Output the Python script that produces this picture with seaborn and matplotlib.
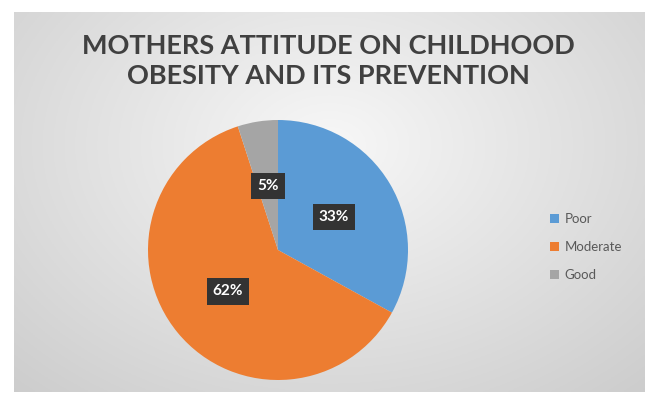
import numpy as np
import matplotlib
matplotlib.use("Agg")
import matplotlib.pyplot as plt
import seaborn as sns

sns.set_theme(style="white")
plt.rcParams['font.family'] = ['Lato', 'DejaVu Sans']

categories = ["Poor", "Moderate", "Good"]
values = [33, 62, 5]
colors = ["#5B9BD5", "#ED7D31", "#A5A5A5"]
title = "MOTHERS ATTITUDE ON CHILDHOOD\nOBESITY AND ITS PREVENTION"

W, H = 651, 394
fig = plt.figure(figsize=(W / 100, H / 100), dpi=100)
fig.patch.set_facecolor("white")

# background gradient (chart area)
x0, y0, x1, y1 = 14, 12, 645, 392
bg = fig.add_axes([x0 / W, 1 - y1 / H, (x1 - x0) / W, (y1 - y0) / H])
yy, xx = np.mgrid[0:1:200j, 0:1:300j]
r = np.sqrt(((xx - 0.5) / 0.75) ** 2 + ((yy - 0.35) / 0.9) ** 2)
g = 0.97 - 0.17 * np.clip(r, 0, 1)
img = np.dstack([g, g, g])
bg.imshow(img, aspect="auto", extent=[0, 1, 0, 1], origin="upper")
bg.set_axis_off()

# pie
cx, cy, rad = 278, 250, 130
ax = fig.add_axes([(cx - rad) / W, 1 - (cy + rad) / H, 2 * rad / W, 2 * rad / H])
wedges, texts, autotexts = ax.pie(
    values, colors=colors, startangle=90, counterclock=False,
    autopct=lambda p: f"{p:.0f}%", pctdistance=0.5,
    wedgeprops=dict(linewidth=0),
    textprops=dict(color="white", fontsize=11, fontweight="bold"),
)
for t in autotexts:
    t.set_bbox(dict(boxstyle="square,pad=0.4", facecolor="#333333", edgecolor="none"))
ax.set_xlim(-1, 1)
ax.set_ylim(-1, 1)
ax.set_aspect("equal")
ax.set_axis_off()

fig.text(0.505, 1 - 61 / H, title, ha="center", va="center", fontsize=19.5,
         fontweight="bold", color="#404040", linespacing=1.25)

leg = fig.legend(wedges, categories, loc="center left",
                 bbox_to_anchor=(538 / W, 1 - 247 / H), frameon=False,
                 fontsize=9.5, handlelength=0.7, handleheight=0.7,
                 labelspacing=1.2, handletextpad=0.4)
for t in leg.get_texts():
    t.set_color("#595959")

fig.savefig("out.png", dpi=100)
